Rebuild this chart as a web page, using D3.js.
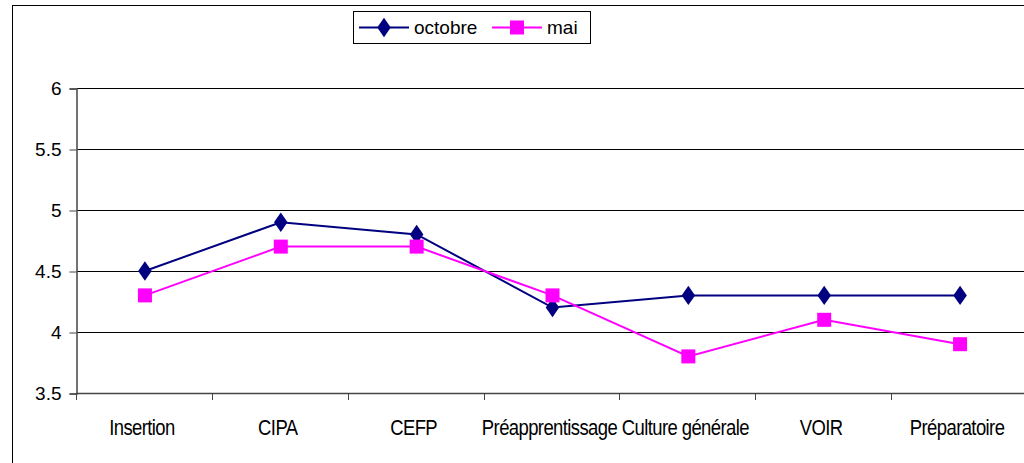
<!DOCTYPE html>
<html>
<head>
<meta charset="utf-8">
<script src="https://cdn.jsdelivr.net/npm/d3@7"></script>
<style>
  body { margin: 0; background: #fff; }
  text { font-family: "Liberation Sans", Arial, sans-serif; }
</style>
</head>
<body>
<div id="vis"></div>
<script>
var width = 1024
var height = 463

var categories = ["Insertion", "CIPA", "CEFP", "Préapprentissage", "Culture générale", "VOIR", "Préparatoire"]
var octobre = [4.5, 4.9, 4.8, 4.2, 4.3, 4.3, 4.3]
var mai = [4.3, 4.7, 4.7, 4.3, 3.8, 4.1, 3.9]
var yTicks = [3.5, 4, 4.5, 5, 5.5, 6]

var svg = d3.select("#vis")
  .append("svg")
  .attr("width", width)
  .attr("height", height)
  .style("display", "block")

// outer chart border
svg.append("rect")
  .attr("x", 12.5).attr("y", 5.5)
  .attr("width", 1030).attr("height", 480)
  .attr("fill", "white")
  .attr("stroke", "black")

var plotLeft = 77, plotTop = 88, plotRight = 1028, plotBottom = 393

var x = d3.scaleBand().domain(categories).range([plotLeft, plotRight])
var y = d3.scaleLinear().domain([3.5, 6]).range([plotBottom, plotTop])

// gridlines
svg.append("g")
  .selectAll("line")
  .data(yTicks.slice(1))
  .enter().append("line")
    .attr("x1", plotLeft).attr("x2", plotRight)
    .attr("y1", d => Math.round(y(d)) + 0.5)
    .attr("y2", d => Math.round(y(d)) + 0.5)
    .attr("stroke", "#000")

// y axis
var yAxis = svg.append("g")
  .attr("transform", `translate(${plotLeft - 0.5},0.5)`)
  .call(d3.axisLeft(y).tickValues(yTicks).tickSize(7).tickPadding(8).tickFormat(d3.format("")))
yAxis.select(".domain").attr("stroke", "#444").attr("stroke-width", 1.5)
yAxis.selectAll(".tick line").attr("stroke", "#444")
yAxis.selectAll("text").style("font-size", "19px").attr("fill", "#000")

// x axis
var xAxis = svg.append("g")
  .attr("transform", `translate(0,${plotBottom + 0.5})`)
  .call(d3.axisBottom(x).tickSize(0).tickPadding(0))
xAxis.select(".domain").remove()
svg.append("line")
  .attr("x1", plotLeft).attr("x2", plotRight)
  .attr("y1", plotBottom + 0.5).attr("y2", plotBottom + 0.5)
  .attr("stroke", "#444").attr("stroke-width", 1.5)
svg.append("g")
  .selectAll("line")
  .data(categories)
  .enter().append("line")
    .attr("x1", d => Math.round(x(d)) - 0.5)
    .attr("x2", d => Math.round(x(d)) - 0.5)
    .attr("y1", plotBottom).attr("y2", plotBottom + 7)
    .attr("stroke", "#444")
xAxis.selectAll("text")
  .attr("dy", null)
  .attr("y", 0)
  .attr("transform", "translate(-3,41) scale(0.84,1)")
  .style("font-size", "22px")
  .style("letter-spacing", "-0.7px")
  .attr("fill", "#000")

var line = d3.line()
  .x((d, i) => x(categories[i]) + x.bandwidth() / 2)
  .y(d => y(d))

// series
svg.append("path")
  .datum(octobre)
  .attr("d", line)
  .attr("fill", "none")
  .attr("stroke", "#000080")
  .attr("stroke-width", 2)

svg.append("path")
  .datum(mai)
  .attr("d", line)
  .attr("fill", "none")
  .attr("stroke", "#ff00ff")
  .attr("stroke-width", 2)

svg.append("g")
  .selectAll("path")
  .data(octobre)
  .enter().append("path")
    .attr("d", d3.symbol().type(d3.symbolDiamond).size(120))
    .attr("transform", (d, i) => `translate(${x(categories[i]) + x.bandwidth() / 2},${y(d)}) scale(1.15,0.95)`)
    .attr("fill", "#000080")

svg.append("g")
  .selectAll("rect")
  .data(mai)
  .enter().append("rect")
    .attr("x", (d, i) => x(categories[i]) + x.bandwidth() / 2 - 7)
    .attr("y", d => y(d) - 7)
    .attr("width", 14).attr("height", 14)
    .attr("fill", "#ff00ff")

// legend
var legend = svg.append("g")
legend.append("rect")
  .attr("x", 353.5).attr("y", 11.5)
  .attr("width", 237).attr("height", 32)
  .attr("fill", "white").attr("stroke", "black")

var legendItems = [
  {name: "octobre", color: "#000080", x: 359, shape: "diamond"},
  {name: "mai", color: "#ff00ff", x: 492, shape: "square"}
]
legendItems.forEach(function(it) {
  legend.append("line")
    .attr("x1", it.x).attr("x2", it.x + 50)
    .attr("y1", 27.5).attr("y2", 27.5)
    .attr("stroke", it.color).attr("stroke-width", 2)
  if (it.shape == "diamond") {
    legend.append("path")
      .attr("d", d3.symbol().type(d3.symbolDiamond).size(120))
      .attr("transform", `translate(${it.x + 25},27.5) scale(1.15,0.95)`)
      .attr("fill", it.color)
  } else {
    legend.append("rect")
      .attr("x", it.x + 25 - 7).attr("y", 27.5 - 7)
      .attr("width", 14).attr("height", 14)
      .attr("fill", it.color)
  }
  legend.append("text")
    .attr("x", it.x + 55).attr("y", 34)
    .style("font-size", "19px")
    .text(it.name)
})
</script>
</body>
</html>
